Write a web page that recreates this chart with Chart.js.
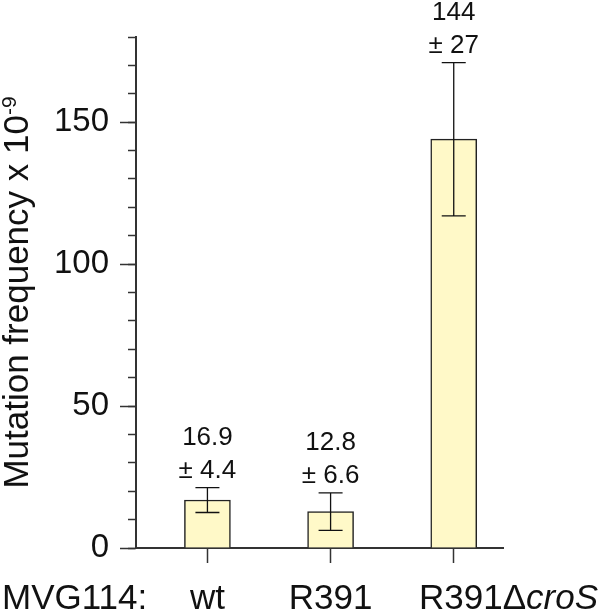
<!DOCTYPE html>
<html>
<head>
<meta charset="utf-8">
<script src="https://cdn.jsdelivr.net/npm/chart.js@4.4.1/dist/chart.umd.min.js"></script>
<style>
  html, body { margin: 0; padding: 0; background: #fff; }
  #wrap { width: 600px; height: 612px; position: relative; }
</style>
</head>
<body>
<div id="wrap"><canvas id="chart"></canvas></div>
<script>
// strain names (italic gene part kept separately)
const strains = ["wt", "R391", "R391\u0394"];
const strainItalic = ["", "", "croS"];
const groupLabel = "MVG114:";

// mutation frequency (x 10^-9) and its error
const freq = [16.9, 12.8, 144];
const freqErr = [4.4, 6.6, 27];

const yMax = 180;
const yMajorStep = 50;
const yMinorStep = 10;

const family = '"Liberation Sans", Arial, Helvetica, sans-serif';
const ink = "#111";
const axisColor = "#333";

Chart.defaults.font.family = family;
Chart.defaults.color = ink;

const positions = strains.map((s, i) => i + 1);

// error bars, value labels, x labels and y title
const annotate = {
  id: "annotate",
  afterDatasetsDraw(chart) {
    const ctx = chart.ctx;
    const y = chart.scales.y;
    const x = chart.scales.x;
    const bars = chart.getDatasetMeta(0).data;
    ctx.save();
    ctx.strokeStyle = ink;
    ctx.fillStyle = ink;
    ctx.lineWidth = 1.3;
    bars.forEach((bar, i) => {
      const top = y.getPixelForValue(freq[i] + freqErr[i]);
      const bot = y.getPixelForValue(freq[i] - freqErr[i]);
      ctx.beginPath();
      ctx.moveTo(bar.x, top);
      ctx.lineTo(bar.x, bot);
      ctx.moveTo(bar.x - 12, top);
      ctx.lineTo(bar.x + 12, top);
      ctx.moveTo(bar.x - 12, bot);
      ctx.lineTo(bar.x + 12, bot);
      ctx.stroke();

      ctx.font = "26px " + family;
      ctx.textAlign = "center";
      ctx.textBaseline = "alphabetic";
      ctx.fillText("\u00b1 " + freqErr[i], bar.x, top - 10);
      ctx.fillText(String(freq[i]), bar.x, top - 43);
    });

    // x labels; the last one sits against the right edge
    const base = 609;
    ctx.textAlign = "left";
    ctx.font = "35px " + family;
    ctx.fillText(groupLabel, 2, base);
    strains.forEach((s, i) => {
      const cx = x.getPixelForValue(positions[i]);
      ctx.font = "35px " + family;
      const w1 = ctx.measureText(s).width;
      ctx.font = "italic 35px " + family;
      const w2 = ctx.measureText(strainItalic[i]).width;
      const w = w1 + w2;
      let left = cx - w / 2;
      if (i === strains.length - 1) left = chart.width - 2 - w;
      ctx.font = "35px " + family;
      ctx.fillText(s, left, base);
      if (strainItalic[i]) {
        ctx.font = "italic 35px " + family;
        ctx.fillText(strainItalic[i], left + w1, base);
      }
    });

    // y axis title with superscript
    const mid = (y.top + y.bottom) / 2;
    ctx.translate(28, mid);
    ctx.rotate(-Math.PI / 2);
    const main = "Mutation frequency x 10";
    const sup = "-9";
    ctx.font = "35px " + family;
    const wm = ctx.measureText(main).width;
    ctx.font = "21px " + family;
    const ws = ctx.measureText(sup).width;
    const start = -(wm + ws) / 2;
    ctx.font = "35px " + family;
    ctx.fillText(main, start, 0);
    ctx.font = "21px " + family;
    ctx.fillText(sup, start + wm, -12);
    ctx.restore();
  }
};

new Chart(document.getElementById("chart"), {
  type: "bar",
  data: {
    datasets: [
      {
        data: positions.map((p, i) => ({ x: p, y: freq[i] })),
        backgroundColor: "#FFF9C8",
        borderColor: "#222",
        borderWidth: 1.5,
        barThickness: 46
      }
    ]
  },
  options: {
    responsive: true,
    maintainAspectRatio: false,
    animation: false,
    layout: { padding: { top: 37, right: 97, left: 0, bottom: 0 } },
    plugins: { legend: { display: false }, tooltip: { enabled: false } },
    scales: {
      x: {
        type: "linear",
        min: 0.42,
        max: 3.4,
        offset: false,
        afterBuildTicks: (scale) => {
          scale.ticks = positions.map((v) => ({ value: v }));
        },
        afterFit: (scale) => {
          scale.height = 64;
        },
        ticks: { display: false },
        grid: {
          offset: false,
          drawOnChartArea: false,
          tickLength: 15,
          tickWidth: 1.5,
          color: axisColor
        },
        border: { display: true, color: axisColor, width: 2 }
      },
      y: {
        type: "linear",
        position: "left",
        weight: 1,
        min: 0,
        max: yMax,
        afterFit: (scale) => {
          scale.width = 136;
        },
        ticks: {
          stepSize: yMajorStep,
          includeBounds: false,
          padding: 11,
          font: { size: 33 },
          color: ink
        },
        grid: {
          drawOnChartArea: false,
          tickLength: 16,
          tickWidth: 1.5,
          color: axisColor
        },
        border: { display: true, color: axisColor, width: 2 }
      },
      yMinor: {
        type: "linear",
        position: "left",
        weight: 0,
        min: 0,
        max: yMax,
        afterFit: (scale) => {
          scale.width = 0;
        },
        ticks: { stepSize: yMinorStep, display: false },
        grid: {
          drawOnChartArea: false,
          tickLength: 8,
          tickWidth: 1.5,
          color: axisColor
        },
        border: { display: false }
      }
    }
  },
  plugins: [annotate]
});
</script>
</body>
</html>
